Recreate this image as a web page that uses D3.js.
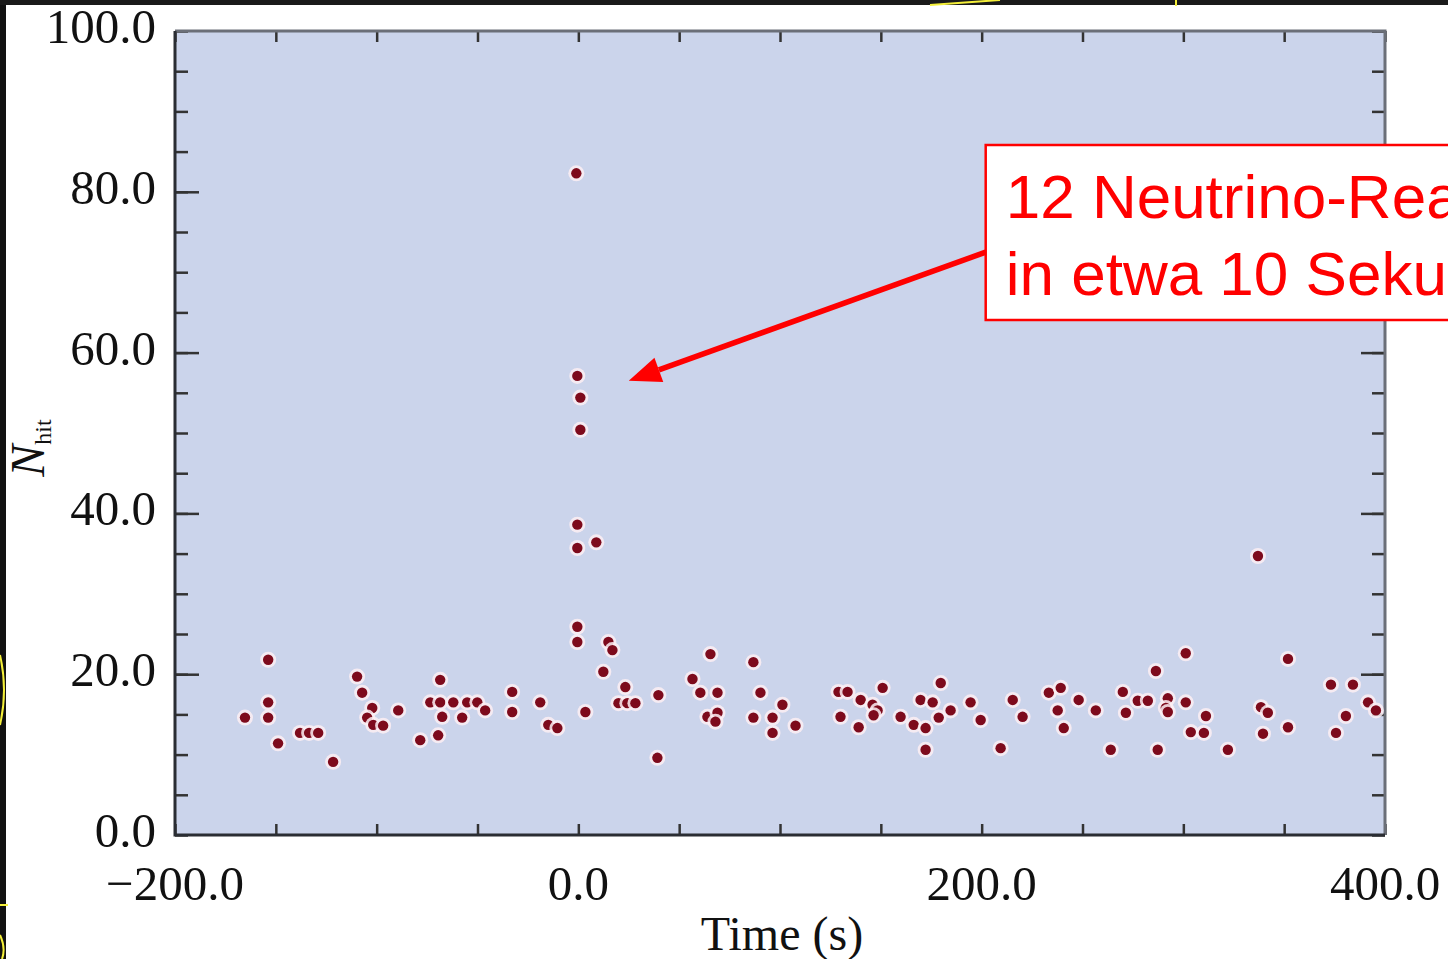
<!DOCTYPE html>
<html>
<head>
<meta charset="utf-8">
<script src="https://cdn.jsdelivr.net/npm/d3@7"></script>
<style>
  body { margin: 0; background: #fff; }
  svg { display: block; overflow: hidden; }
</style>
</head>
<body>
<svg></svg>
<script>
// event times (s) and hit counts
var time = [-165.3, -153.8, -153.8, -153.8, -148.9, -138.0, -133.5, -129.0, -121.6, -109.7,
  -107.2, -102.2, -104.7, -101.7, -96.8, -89.3, -78.4, -69.5, -68.5, -73.4,
  -68.5, -62.0, -55.1, -50.1, -46.2, -67.5, -57.6, -32.8, -32.8, -18.9,
  -14.9, -10.4, -0.5, -0.5, -1.0, -0.5, 1.0, 1.0, -0.5, -0.5,
  8.9, 3.5, 14.9, 16.9, 12.4, 23.3, 19.9, 24.3, 28.3, 39.7,
  39.2, 65.5, 56.6, 60.5, 69.0, 64.0, 69.0, 68.0, 86.8, 90.3,
  101.2, 86.8, 96.3, 96.3, 107.7, 129.0, 133.5, 150.9, 140.0, 145.9,
  148.4, 146.4, 130.0, 139.0, 159.8, 166.3, 172.2, 179.7, 169.7, 175.7,
  184.6, 178.7, 172.2, 194.5, 199.5, 209.4, 215.4, 220.3, 233.3, 239.2,
  237.7, 240.7, 248.1, 256.6, 264.0, 270.0, 271.5, 277.4, 282.4, 292.3,
  291.3, 292.3, 301.2, 286.4, 301.2, 287.3, 303.7, 310.2, 311.2, 322.1,
  337.0, 338.5, 341.9, 339.5, 351.9, 351.9, 373.2, 384.1, 380.6, 375.7,
  391.6, 395.5];
var nhit = [14.6, 21.8, 16.5, 14.6, 11.4, 12.7, 12.7, 12.7, 9.1, 19.7,
  17.7, 15.8, 14.6, 13.7, 13.6, 15.5, 11.8, 12.4, 19.3, 16.5,
  16.5, 16.5, 16.5, 16.5, 15.5, 14.7, 14.6, 17.8, 15.3, 16.5,
  13.7, 13.3, 25.9, 24.0, 82.3, 57.1, 54.4, 50.4, 38.6, 35.7,
  36.4, 15.3, 24.0, 23.0, 20.3, 18.4, 16.4, 16.4, 16.4, 17.4,
  9.6, 22.5, 19.4, 17.7, 17.7, 14.7, 15.2, 14.1, 21.5, 17.7,
  16.2, 14.6, 14.6, 12.7, 13.6, 17.8, 17.8, 18.3, 16.8, 16.2,
  15.5, 14.9, 14.7, 13.4, 14.7, 13.7, 13.3, 18.9, 16.8, 16.5,
  15.5, 14.6, 10.6, 16.5, 14.3, 10.8, 16.8, 14.7, 17.7, 18.3,
  15.5, 13.3, 16.8, 15.5, 10.6, 17.8, 15.2, 16.7, 16.7, 17.0,
  15.8, 15.3, 16.5, 20.4, 22.6, 10.6, 12.8, 12.7, 14.8, 10.6,
  34.7, 15.9, 15.2, 12.6, 21.9, 13.4, 18.7, 18.7, 14.8, 12.7,
  16.5, 15.5];

var xLabels = [-200, 0, 200, 400];
var yLabels = [0, 20, 40, 60, 80, 100];
var noteLines = ["12 Neutrino-Reaktionen", "in etwa 10 Sekunden"];
var arrowTip = [25, 56.5];    // data coords
var arrowTail = [202, 72.5];

var svgWidth = 1448, svgHeight = 959;
var pLeft = 175, pRight = 1385, pTop = 31, pBottom = 835;

var svg = d3.select("svg")
    .attr("width", svgWidth)
    .attr("height", svgHeight);

var x = d3.scaleLinear().domain([-200, 400]).range([pLeft, pRight]);
var y = d3.scaleLinear().domain([0, 100]).range([pBottom, pTop]);

// scan edges
svg.append("rect").attr("x", 0).attr("y", 0).attr("width", 6).attr("height", svgHeight).attr("fill", "#111");
svg.append("rect").attr("x", 0).attr("y", 0).attr("width", svgWidth).attr("height", 5).attr("fill", "#1a1a1a");
svg.append("path").attr("d", "M0,655 Q8,690 0,725 M0,905 L8,905 M0,935 Q6,948 2,959 M930,5 L1000,0 M1176,0 L1176,6")
    .attr("stroke", "#f5f03a").attr("stroke-width", 2).attr("fill", "none");

// plot panel
svg.append("rect")
    .attr("x", pLeft).attr("y", pTop)
    .attr("width", pRight - pLeft).attr("height", pBottom - pTop)
    .attr("fill", "#cbd4eb");

var fifty = d3.range(-200, 401, 50);
var five = d3.range(0, 101, 5);

function noLabel() { return ""; }

svg.append("g").attr("transform", "translate(0," + pBottom + ")")
    .call(d3.axisBottom(x).tickValues(fifty).tickSizeInner(-11).tickSizeOuter(0).tickFormat(noLabel));
svg.append("g").attr("transform", "translate(0," + pTop + ")")
    .call(d3.axisTop(x).tickValues(fifty).tickSizeInner(-11).tickSizeOuter(0).tickFormat(noLabel));
svg.append("g").attr("transform", "translate(" + pLeft + ",0)")
    .call(d3.axisLeft(y).tickValues(five).tickSizeInner(-13).tickSizeOuter(0).tickFormat(noLabel));
svg.append("g").attr("transform", "translate(" + pRight + ",0)")
    .call(d3.axisRight(y).tickValues(five).tickSizeInner(-13).tickSizeOuter(0).tickFormat(noLabel));
svg.append("g").attr("transform", "translate(" + pLeft + ",0)")
    .call(d3.axisLeft(y).tickValues(yLabels.slice(1, 5)).tickSizeInner(-24).tickSizeOuter(0).tickFormat(noLabel));
svg.append("g").attr("transform", "translate(" + pRight + ",0)")
    .call(d3.axisRight(y).tickValues(yLabels.slice(1, 5)).tickSizeInner(-24).tickSizeOuter(0).tickFormat(noLabel));

svg.selectAll(".domain").remove();
svg.selectAll(".tick line").attr("stroke", "#333").attr("stroke-width", 2.5);

// frame
svg.append("path")
    .attr("d", "M" + pLeft + "," + pTop + "H" + pRight + "V" + pBottom)
    .attr("fill", "none").attr("stroke", "#6b6f78").attr("stroke-width", 3);
svg.append("path")
    .attr("d", "M" + pLeft + "," + pTop + "V" + pBottom + "H" + pRight)
    .attr("fill", "none").attr("stroke", "#2a2d33").attr("stroke-width", 3);

// tick labels
var fmt = d3.format(".1f");
svg.selectAll(".xlab")
    .data(xLabels)
    .enter()
    .append("text")
    .attr("class", "xlab")
    .attr("x", function(d) { return x(d); })
    .attr("y", 900)
    .attr("text-anchor", "middle")
    .attr("font-family", "Liberation Serif, Times New Roman, serif")
    .attr("font-size", 49)
    .attr("fill", "#111")
    .text(function(d) { return fmt(d); });

svg.selectAll(".ylab")
    .data(yLabels)
    .enter()
    .append("text")
    .attr("class", "ylab")
    .attr("x", 156)
    .attr("y", function(d) { return y(d) + 12; })
    .attr("text-anchor", "end")
    .attr("font-family", "Liberation Serif, Times New Roman, serif")
    .attr("font-size", 49)
    .attr("fill", "#111")
    .text(function(d) { return fmt(d); });

// axis titles
svg.append("text")
    .attr("x", 782).attr("y", 950)
    .attr("text-anchor", "middle")
    .attr("font-family", "Liberation Serif, Times New Roman, serif")
    .attr("font-size", 48)
    .attr("fill", "#111")
    .text("Time (s)");

var yt = svg.append("text")
    .attr("transform", "translate(44,448) rotate(-90)")
    .attr("text-anchor", "middle")
    .attr("font-family", "Liberation Serif, Times New Roman, serif")
    .attr("fill", "#111");
yt.append("tspan").attr("font-style", "italic").attr("font-size", 48).text("N");
yt.append("tspan").attr("font-size", 24).attr("dy", 7).text("hit");

// events
var dots = svg.append("g").selectAll("g")
    .data(time)
    .enter()
    .append("g")
    .attr("transform", function(d, i) { return "translate(" + x(d) + "," + y(nhit[i]) + ")"; });
dots.append("circle").attr("r", 8).attr("fill", "#fdeef3").attr("opacity", 0.85);
dots.append("circle").attr("r", 5.2).attr("fill", "#7d0a1c");

// annotation
var tx = x(arrowTip[0]), ty = y(arrowTip[1]);
var sx = x(arrowTail[0]), sy = y(arrowTail[1]);
var len = Math.hypot(sx - tx, sy - ty);
var ux = (sx - tx) / len, uy = (sy - ty) / len;
var bx = tx + ux * 32, by = ty + uy * 32;

svg.append("line")
    .attr("x1", sx).attr("y1", sy).attr("x2", bx).attr("y2", by)
    .attr("stroke", "#f00").attr("stroke-width", 5.5);
svg.append("polygon")
    .attr("points", [[tx, ty], [bx - uy * 13, by + ux * 13], [bx + uy * 13, by - ux * 13]].join(" "))
    .attr("fill", "#f00");

svg.append("rect")
    .attr("x", sx).attr("y", 145)
    .attr("width", 600).attr("height", 175)
    .attr("fill", "#fff")
    .attr("stroke", "#f00")
    .attr("stroke-width", 2.5);

svg.selectAll(".note")
    .data(noteLines)
    .enter()
    .append("text")
    .attr("class", "note")
    .attr("x", sx + 20)
    .attr("y", function(d, i) { return 218 + i * 77; })
    .attr("font-family", "Liberation Sans, Arial, sans-serif")
    .attr("font-size", 62)
    .attr("fill", "#f00")
    .text(function(d) { return d; });
</script>
</body>
</html>
